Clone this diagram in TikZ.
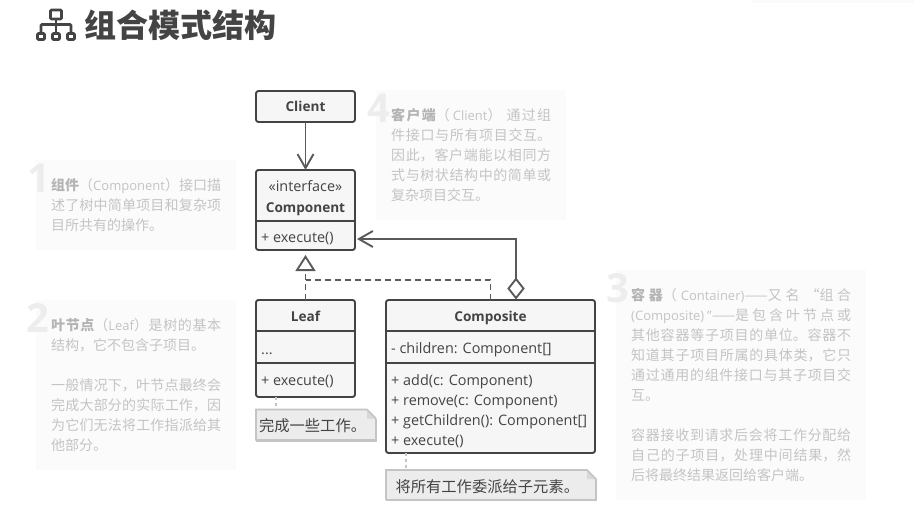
\documentclass[tikz,border=0pt]{standalone}
\usepackage{fontspec}
\setmainfont{Open Sans}
\newfontfamily\cjk{Noto Sans CJK SC}
\usepackage{tikz}
\usetikzlibrary{arrows.meta,calc,shapes.geometric}
\XeTeXlinebreaklocale "zh"
\XeTeXlinebreakskip=0pt plus 3pt minus 1pt
\definecolor{uml-ink}{HTML}{444444}
\definecolor{uml-line}{HTML}{5A5A5A}
\definecolor{uml-fill}{HTML}{F6F6F6}
\definecolor{panel-fill}{HTML}{FBFBFB}
\definecolor{panel-num}{HTML}{EDEDED}
\definecolor{panel-ink}{HTML}{C4C4C4}
\definecolor{panel-head}{HTML}{B4B4B4}
\definecolor{note-fill}{HTML}{ECECEC}
\definecolor{note-line}{HTML}{C4C4C4}
\definecolor{note-fold}{HTML}{D8D8D8}
\tikzstyle{classbox}=[draw=uml-ink, fill=uml-fill, line width=1.9pt, rounded corners=2.5pt, inner sep=0pt, outer sep=0pt]
\tikzstyle{member}=[inner sep=0pt, text=uml-ink, anchor=base west, font=\fontsize{14.4}{18}\selectfont]
\tikzstyle{classname}=[inner sep=0pt, text=uml-ink, anchor=base, font=\fontsize{14.4}{18}\selectfont]
\tikzstyle{boldname}=[inner sep=0pt, text=uml-ink, anchor=base, font=\fontsize{13.6}{18}\selectfont\bfseries]
\tikzstyle{umlline}=[draw=uml-line, line width=1.9pt]
\tikzstyle{openhead}=[-{Straight Barb[length=14pt,width=16pt,line width=1.9pt]}]
\tikzstyle{panel}=[fill=panel-fill, inner sep=0pt, outer sep=0pt]
\tikzstyle{panelnum}=[inner sep=0pt, text=panel-num, anchor=base east, font=\fontsize{40}{40}\selectfont\bfseries]
\tikzstyle{paneltext}=[inner sep=0pt, text=panel-ink, anchor=north west, align=justify, font=\cjk\fontsize{14}{20}\selectfont]
\tikzstyle{notebox}=[inner sep=0pt, outer sep=0pt]
\tikzstyle{notetext}=[inner sep=0pt, outer sep=0pt, text=uml-ink, anchor=west, font=\cjk\fontsize{15.3}{18}\selectfont]
\tikzstyle{notelink}=[draw=note-line, line width=1.5pt, dash pattern=on 3pt off 3pt]
\newcommand{\hd}[1]{\textcolor{panel-head}{\bfseries #1}}
\newcommand{\en}[1]{{\normalfont\fontsize{13}{20}\selectfont #1}}
\newcommand{\sep}[2]{
	\draw[umlline, draw=uml-ink] (#1.west |- 0,#2) -- (#1.east |- 0,#2);
}
\newcommand{\noteFold}[1]{
	\fill[note-fill] (#1.north west) -- ($(#1.north east)+(-9,0)$) -- ($(#1.north east)+(0,9)$) -- (#1.south east) -- (#1.south west) -- cycle;
	\fill[note-fold] ($(#1.north east)+(-9,0)$) -- ($(#1.north east)+(0,9)$) -- ($(#1.north east)+(-9,9)$) -- cycle;
	\draw[note-line, line width=1.6pt] (#1.south west) -- (#1.north west) -- ($(#1.north east)+(-9,0)$) -- ($(#1.north east)+(0,9)$);
	\draw[note-line, line width=2.2pt] ($(#1.north east)+(0,9)$) -- (#1.south east) -- (#1.south west);
}
\begin{document}
\begin{tikzpicture}[x=1pt,y=-1pt]
	\useasboundingbox (0,0) rectangle (914,527);
	\fill[panel-fill] (752,0) rectangle (914,3);

	\begin{scope}[draw=uml-ink, line width=2.6pt, rounded corners=1pt]
		\draw (50.5,10) rectangle (61.5,19);
		\draw (37.5,33.5) rectangle (44.5,39.5);
		\draw (52.5,33.5) rectangle (59.5,39.5);
		\draw (67.5,33.5) rectangle (74.5,39.5);
		\draw (56,19) -- (56,33);
		\draw (41,33) -- (41,24.5) -- (71,24.5) -- (71,33);
	\end{scope}
	\node[inner sep=0pt, anchor=base west, text=uml-ink, font=\cjk\fontsize{32}{36}\selectfont\bfseries] (title) at (84,38) {组合模式结构};

	\node[panel, minimum width=200pt, minimum height=90pt, anchor=north west] (panelA) at (36,160) {};
	\node[panel, minimum width=200pt, minimum height=170pt, anchor=north west] (panelB) at (36,300) {};
	\node[panel, minimum width=250pt, minimum height=230pt, anchor=north west] (panelC) at (616,270) {};
	\node[panel, minimum width=190pt, minimum height=130pt, anchor=north west] (panelD) at (376,90) {};
	\node[panelnum] (numA) at (51,192) {1};
	\node[panelnum] (numB) at (50,332) {2};
	\node[panelnum] (numC) at (630,302) {3};
	\node[panelnum] (numD) at (390.5,122) {4};

	\node[paneltext, text width=170pt] (textA) at (51,178) {\hd{组件}（\en{Component}）接口描\linebreak
		述了树中简单项目和复杂项\linebreak
		目所共有的操作。};
	\node[paneltext, text width=170pt] (textB) at (51,318) {\hd{叶节点}（\en{Leaf}）是树的基本\linebreak
		结构，它不包含子项目。\\
		\mbox{}\\
		一般情况下，叶节点最终会\linebreak
		完成大部分的实际工作，因\linebreak
		为它们无法将工作指派给其\linebreak
		他部分。};
	\node[paneltext, text width=220pt] (textC) at (631,288) {\hd{容器}（\hspace{4pt}\en{Container)}——又名\hspace{6pt}“组合\linebreak
		\en{(Composite)\hspace{3pt}”}——是包含叶节点或\linebreak
		其他容器等子项目的单位。容器不\linebreak
		知道其子项目所属的具体类，它只\linebreak
		通过通用的组件接口与其子项目交\linebreak
		互。\\
		\mbox{}\\
		容器接收到请求后会将工作分配给\linebreak
		自己的子项目，处理中间结果，然\linebreak
		后将最终结果返回给客户端。};
	\node[paneltext, text width=160pt] (textD) at (391,108) {\hd{客户端}（\hspace{3pt}\en{Client}）\hspace{5pt}通过组\linebreak
		件接口与所有项目交互。\linebreak
		因此，客户端能以相同方\linebreak
		式与树状结构中的简单或\linebreak
		复杂项目交互。};

	\node[classbox, minimum width=99pt, minimum height=31pt, anchor=north west] (client) at (256,91) {};
	\node[classbox, minimum width=99pt, minimum height=80pt, anchor=north west] (component) at (256,170) {};
	\node[classbox, minimum width=99pt, minimum height=97pt, anchor=north west] (leaf) at (256,300) {};
	\node[classbox, minimum width=209pt, minimum height=153pt, anchor=north west] (composite) at (386,300) {};
	\sep{component}{221}
	\sep{leaf}{331}
	\sep{leaf}{363}
	\sep{composite}{331}
	\sep{composite}{363}

	\node[boldname] (clientName) at (305.5,111) {Client};
	\node[classname] (compStereo) at (305.5,191) {«interface»};
	\node[boldname] (compName) at (305.5,212) {Component};
	\node[member] (compExec) at (261,242) {+ execute()};
	\node[boldname] (leafName) at (305.5,321) {Leaf};
	\node[member] (leafDots) at (261,354) {...};
	\node[member] (leafExec) at (261,385) {+ execute()};
	\node[boldname] (compositeName) at (490.5,321) {Composite};
	\node[member] (compositeKids) at (391,353) {- children: Component[]};
	\node[member] (compositeAdd) at (391,385) {+ add(c: Component)};
	\node[member] (compositeRemove) at (391,405) {+ remove(c: Component)};
	\node[member] (compositeGet) at (391,425) {+ getChildren(): Component[]};
	\node[member] (compositeExec) at (391,445) {+ execute()};

	\draw[umlline, openhead] (client.south) -- (component.north);

	\node[diamond, draw=uml-line, fill=white, line width=1.9pt, inner sep=0pt, outer sep=0pt, minimum width=15pt, minimum height=19pt] (whole) at (516,288.5) {};
	\coordinate (execPort) at (357,239);
	\draw[umlline, openhead] (whole.north) |- (execPort);

	\coordinate (realize) at (305.5,280);
	\draw[umlline, dash pattern=on 6pt off 4pt, -{Triangle[open, length=16pt, width=20pt, line width=1.9pt]}, shorten >=5pt] (leaf.north) -- (component.south);
	\draw[umlline, dash pattern=on 6pt off 4pt] (composite.north) |- (realize);

	\node[notebox, minimum width=120pt, minimum height=31pt, anchor=north west] (leafNote) at (256,409.5) {};
	\node[notebox, minimum width=210pt, minimum height=30pt, anchor=north west] (compositeNote) at (386,470) {};
	\noteFold{leafNote}
	\noteFold{compositeNote}
	\node[notetext] (leafNoteText) at (259,426) {完成一些工作。};
	\node[notetext] (compositeNoteText) at (395.5,487) {将所有工作委派给子元素。};
	\draw[notelink] ($(leaf.south west)+(20,0)$) -- ($(leafNote.north west)+(20,0)$);
	\draw[notelink] ($(composite.south west)+(20,0)$) -- ($(compositeNote.north west)+(20,0)$);
\end{tikzpicture}
\end{document}
